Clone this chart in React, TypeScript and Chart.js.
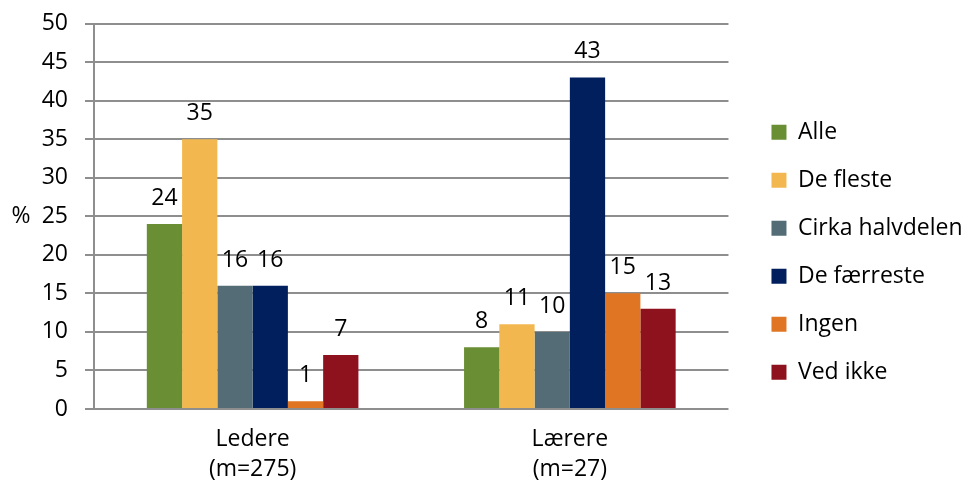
import React, { useEffect, useRef } from "react";
import { Chart, registerables } from "chart.js";

Chart.register(...registerables);

const categories: string[][] = [["Ledere", "(m=275)"], ["Lærere", "(m=27)"]];
const seriesNames = ["Alle", "De fleste", "Cirka halvdelen", "De færreste", "Ingen", "Ved ikke"];
const seriesColors = ["#6A8E33", "#F2B84F", "#546C76", "#001F5C", "#E07623", "#8E121E"];
const alle = [24, 8];
const deFleste = [35, 11];
const cirkaHalvdelen = [16, 10];
const deFaerreste = [16, 43];
const ingen = [1, 15];
const vedIkke = [7, 13];
const seriesValues = [alle, deFleste, cirkaHalvdelen, deFaerreste, ingen, vedIkke];
const yMin = 0;
const yMax = 50;
const yStep = 5;
const yTitle = "%";

const FONT = "'Open Sans', sans-serif";
const FS = 23;
const GRID = "#8E8E8E";
const LEGEND_EXTRA_WIDTH = 7.5;
const LEGEND_SHIFT_X = 18;
const LEGEND_SHIFT_Y = -3;

const valueLabels = {
  id: "valueLabels",
  afterDatasetsDraw(chart: any) {
    const ctx = chart.ctx;
    ctx.save();
    ctx.font = `${FS}px ${FONT}`;
    ctx.fillStyle = "#000";
    ctx.textAlign = "center";
    ctx.textBaseline = "alphabetic";
    chart.data.datasets.forEach((ds: any, i: number) => {
      const meta = chart.getDatasetMeta(i);
      meta.data.forEach((el: any, j: number) => {
        ctx.fillText(String(ds.data[j]), el.x, el.y - 19);
      });
    });
    ctx.restore();
  },
};

const yTitlePlugin = {
  id: "yTitlePlugin",
  afterDraw(chart: any) {
    const ctx = chart.ctx;
    const ys = chart.scales.y;
    ctx.save();
    ctx.font = `${FS}px ${FONT}`;
    ctx.fillStyle = "#000";
    ctx.textAlign = "center";
    ctx.textBaseline = "middle";
    ctx.fillText(yTitle, ys.left / 2, (chart.chartArea.top + chart.chartArea.bottom) / 2);
    ctx.restore();
  },
};

// Leaves a little more room between the plot and the built-in legend.
const legendGap = {
  id: "legendGap",
  beforeLayout(chart: any) {
    const lg = chart.legend;
    if (!lg || lg._gapPatched) return;
    lg._gapPatched = true;
    const fit = lg.fit.bind(lg);
    lg.fit = function () {
      fit();
      this.width += LEGEND_EXTRA_WIDTH;
    };
    const draw = lg.draw.bind(lg);
    lg.draw = function () {
      const l = this.left;
      const t = this.top;
      const b = this.bottom;
      this.left = l + LEGEND_SHIFT_X;
      this.top = t + LEGEND_SHIFT_Y;
      this.bottom = b + LEGEND_SHIFT_Y;
      draw();
      this.left = l;
      this.top = t;
      this.bottom = b;
    };
  },
};

export default function App() {
  const ref = useRef<HTMLCanvasElement | null>(null);
  useEffect(() => {
    if (!ref.current) return;
    const chart = new Chart(ref.current, {
      type: "bar",
      data: {
        labels: categories,
        datasets: seriesNames.map((name, i) => ({
          label: name,
          data: seriesValues[i],
          backgroundColor: seriesColors[i],
          borderWidth: 0,
          categoryPercentage: 0.667,
          barPercentage: 1,
        })),
      },
      options: {
        animation: false,
        responsive: true,
        maintainAspectRatio: false,
        layout: { padding: { left: 42, top: 23.5, bottom: 0, right: 0 } },
        plugins: {
          tooltip: { enabled: false },
          legend: {
            position: "right",
            labels: {
              boxWidth: 15,
              boxHeight: 15,
              padding: 25,
              color: "#000",
              font: { family: FONT, size: FS },
            },
          },
        },
        scales: {
          x: {
            grid: { display: false, drawTicks: false },
            border: { display: false },
            ticks: {
              color: "#000",
              padding: 16,
              font: { family: FONT, size: FS, lineHeight: 1.3 },
            },
            afterFit: (s: any) => {
              s.height = 78;
            },
          },
          y: {
            min: yMin,
            max: yMax,
            ticks: {
              stepSize: yStep,
              color: "#000",
              padding: 17,
              font: { family: FONT, size: FS },
            },
            grid: { color: GRID, lineWidth: 2, tickLength: 9, drawTicks: true },
            border: { display: true, color: GRID, width: 2 },
            afterFit: (s: any) => {
              s.width = 52;
              s.paddingTop = 0;
              s.paddingBottom = 0;
            },
          },
        },
      },
      plugins: [valueLabels, yTitlePlugin, legendGap],
    });
    return () => chart.destroy();
  }, []);
  return (
    <div style={{ position: "absolute", left: 0, top: 0, width: 962, height: 487, background: "#fff" }}>
      <canvas ref={ref} />
    </div>
  );
}
